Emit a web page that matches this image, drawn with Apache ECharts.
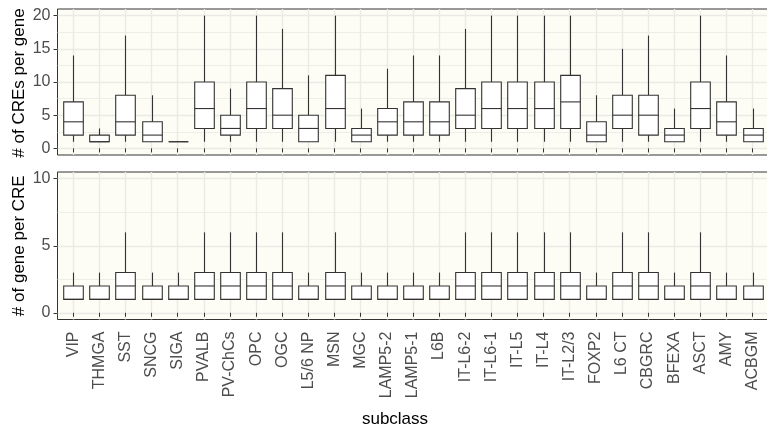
<!DOCTYPE html>
<html><head><meta charset="utf-8">
<script src="https://cdn.jsdelivr.net/npm/echarts@6/dist/echarts.min.js"></script>
<style>html,body{margin:0;padding:0;background:#fff}#c{width:767px;height:435px}</style>
</head><body><div id="c"></div>
<script>
// ---- data ----
const categories = ['VIP','THMGA','SST','SNCG','SIGA','PVALB','PV-ChCs','OPC','OGC','L5/6 NP','MSN','MGC','LAMP5-2','LAMP5-1','L6B','IT-L6-2','IT-L6-1','IT-L5','IT-L4','IT-L2/3','FOXP2','L6 CT','CBGRC','BFEXA','ASCT','AMY','ACBGM'];
// [lower whisker, Q1, median, Q3, upper whisker]
const crePerGene = [
  [1,2,4,7,14],[1,1,1,2,3],[1,2,4,8,17],[1,1,2,4,8],[1,1,1,1,1],
  [1,3,6,10,20],[1,2,3,5,9],[1,3,6,10,20],[1,3,5,9,18],[1,1,3,5,11],
  [1,3,6,11,20],[1,1,2,3,6],[1,2,4,6,12],[1,2,4,7,14],[1,2,4,7,14],
  [1,3,5,9,18],[1,3,6,10,20],[1,3,6,10,20],[1,3,6,10,20],[1,3,7,11,20],
  [1,1,2,4,8],[1,3,5,8,15],[1,2,5,8,17],[1,1,2,3,6],[1,3,6,10,20],
  [1,2,4,7,14],[1,1,2,3,6]
];
const genePerCre = [
  [1,1,1,2,3],[1,1,1,2,3],[1,1,2,3,6],[1,1,1,2,3],[1,1,1,2,3],
  [1,1,2,3,6],[1,1,2,3,6],[1,1,2,3,6],[1,1,2,3,6],[1,1,1,2,3],
  [1,1,2,3,6],[1,1,1,2,3],[1,1,1,2,3],[1,1,1,2,3],[1,1,1,2,3],
  [1,1,2,3,6],[1,1,2,3,6],[1,1,2,3,6],[1,1,2,3,6],[1,1,2,3,6],
  [1,1,1,2,3],[1,1,2,3,6],[1,1,2,3,6],[1,1,1,2,3],[1,1,2,3,6],
  [1,1,1,2,3],[1,1,1,2,3]
];
const topTicks = [0,5,10,15,20];
const topMinor = [2.5,7.5,12.5,17.5];
const botTicks = [0,5,10];
const botMinor = [2.5,7.5];
const topRange = [-1, 21];
const botRange = [-0.5, 10.5];
const topTitle = '# of CREs per gene';
const botTitle = '# of gene per CRE';
const xTitle = 'subclass';

// ---- style ----
const FONT = 'Liberation Sans, Arial, sans-serif';
const BG = '#FDFDF5';
const GRIDC = '#EAEAE6';
const INK = '#333333';
const TXT = '#4D4D4D';
const PL = 57.5, PW = 712;           // panel frame; right edge runs off the canvas
const DL = 73.2, DW = 679.4;         // category centre span
const T1 = 9, H1 = 146, T2 = 172, H2 = 147.5;

const chart = echarts.init(document.getElementById('c'), null, {renderer:'canvas'});

function frameGrid(top, h){ return {left:PL, top:top, width:PW, height:h, show:true, backgroundColor:BG, borderColor:INK, borderWidth:1, z:0, outerBoundsMode:'none', containLabel:false}; }
function dataGrid(top, h){ return {left:DL, top:top, width:DW, height:h, show:false, outerBoundsMode:'none', containLabel:false}; }

function majorY(gi, range, ticks){
  return {gridIndex:gi, type:'value', min:range[0], max:range[1], position:'left',
    axisLine:{show:false},
    axisTick:{show:true, length:4, customValues:ticks, lineStyle:{color:INK, width:1}},
    axisLabel:{customValues:ticks, fontSize:16, color:TXT, fontFamily:FONT, margin:7},
    splitLine:{show:true, lineStyle:{color:GRIDC, width:1.4}}};
}
function minorY(gi, range, ticks){
  return {gridIndex:gi, type:'value', min:range[0], max:range[1], position:'left',
    axisLine:{show:false},
    axisTick:{show:false, customValues:ticks},
    axisLabel:{show:false, customValues:ticks},
    splitLine:{show:true, lineStyle:{color:GRIDC, width:0.8}}};
}
function hiddenY(gi, range){
  return {gridIndex:gi, type:'value', min:range[0], max:range[1], show:false};
}
function catX(gi, labels){
  return {gridIndex:gi, type:'category', data:categories, boundaryGap:false,
    axisLine:{show:false},
    axisTick:{show:true, interval:0, length:4, lineStyle:{color:INK, width:1}},
    axisLabel:{show:labels, interval:0, rotate:90, fontSize:16, color:TXT, fontFamily:FONT, margin:12},
    splitLine:{show:true, interval:0, lineStyle:{color:GRIDC, width:1.4}}};
}

function renderBox(params, api){
  const x = api.value(0);
  const lo = api.coord([x, api.value(1)]);
  const q1 = api.coord([x, api.value(2)]);
  const md = api.coord([x, api.value(3)]);
  const q3 = api.coord([x, api.value(4)]);
  const hi = api.coord([x, api.value(5)]);
  const bw = api.size([1, 0])[0] * 0.75;
  const cx = Math.round(lo[0]) + 0.5;
  const ln = {stroke:INK, lineWidth:1.1};
  return {type:'group', children:[
    {type:'line', shape:{x1:cx, y1:hi[1], x2:cx, y2:q3[1]}, style:ln},
    {type:'line', shape:{x1:cx, y1:q1[1], x2:cx, y2:lo[1]}, style:ln},
    {type:'rect', shape:{x:cx-bw/2, y:q3[1], width:bw, height:q1[1]-q3[1]}, style:{fill:'#FFFFFF', stroke:INK, lineWidth:1.1}},
    {type:'line', shape:{x1:cx-bw/2, y1:md[1], x2:cx+bw/2, y2:md[1]}, style:ln}
  ]};
}
function toItems(arr){ return arr.map((d,i)=>[i].concat(d)); }

const option = {
  animation:false,
  backgroundColor:'#FFFFFF',
  textStyle:{fontFamily:FONT},
  grid:[frameGrid(T1,H1), dataGrid(T1,H1), frameGrid(T2,H2), dataGrid(T2,H2)],
  xAxis:[
    {gridIndex:0, type:'value', show:false, min:0, max:1},
    catX(1, false),
    {gridIndex:2, type:'value', show:false, min:0, max:1},
    catX(3, true)
  ],
  yAxis:[
    majorY(0, topRange, topTicks), minorY(0, topRange, topMinor), hiddenY(1, topRange),
    majorY(2, botRange, botTicks), minorY(2, botRange, botMinor), hiddenY(3, botRange)
  ],
  series:[
    {type:'custom', xAxisIndex:1, yAxisIndex:2, data:toItems(crePerGene), renderItem:renderBox, encode:{x:0, y:[1,2,3,4,5]}, z:5},
    {type:'custom', xAxisIndex:3, yAxisIndex:5, data:toItems(genePerCre), renderItem:renderBox, encode:{x:0, y:[1,2,3,4,5]}, z:5}
  ],
  graphic:[
    {type:'text', x:19.5, y:T1+H1/2+1, rotation:Math.PI/2, style:{text:topTitle, fill:'#000', font:'17px '+FONT, align:'center', verticalAlign:'middle'}},
    {type:'text', x:19.5, y:T2+H2/2, rotation:Math.PI/2, style:{text:botTitle, fill:'#000', font:'17px '+FONT, align:'center', verticalAlign:'middle'}},
    {type:'text', x:395, y:419, style:{text:xTitle, fill:'#000', font:'17px '+FONT, align:'center', verticalAlign:'middle'}}
  ]
};
chart.setOption(option);
</script>
</body></html>
